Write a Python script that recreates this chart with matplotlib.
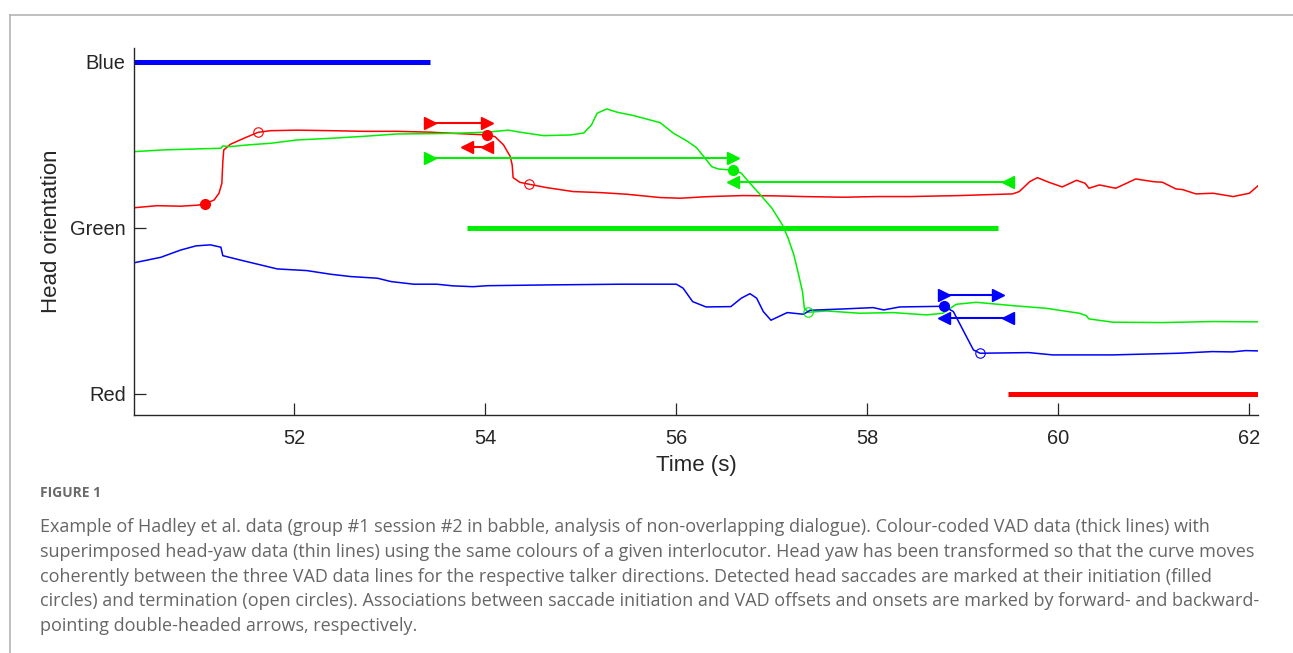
import numpy as np
import matplotlib
matplotlib.use("Agg")
import matplotlib.pyplot as plt
from matplotlib.lines import Line2D

# head-yaw traces (time in s, orientation: Red=0, Green=1, Blue=2)
red_t = [50.33, 50.56, 50.81, 50.98, 51.06, 51.16, 51.21, 51.24, 51.25, 51.26, 51.33, 51.47,
         51.62, 51.75, 52.03, 52.38, 52.73, 53.07, 53.42, 53.66, 54.02, 54.10, 54.19, 54.26,
         54.28, 54.29, 54.36, 54.46, 54.64, 54.92, 55.20, 55.48, 55.83, 56.04, 56.28, 56.35,
         56.70, 57.05, 57.33, 57.75, 58.10, 58.44, 58.97, 59.18, 59.52, 59.59, 59.70, 59.78,
         59.90, 60.04, 60.19, 60.28, 60.32, 60.43, 60.60, 60.81, 60.99, 61.09, 61.23, 61.30,
         61.44, 61.62, 61.83, 62.00, 62.10]
red_y = [1.122, 1.134, 1.131, 1.137, 1.143, 1.169, 1.209, 1.269, 1.399, 1.470, 1.504, 1.540,
         1.576, 1.586, 1.589, 1.586, 1.582, 1.582, 1.577, 1.570, 1.560, 1.550, 1.500, 1.430,
         1.380, 1.303, 1.275, 1.263, 1.243, 1.219, 1.213, 1.203, 1.183, 1.179, 1.187, 1.189,
         1.195, 1.193, 1.189, 1.185, 1.189, 1.189, 1.195, 1.199, 1.205, 1.219, 1.279, 1.303,
         1.275, 1.247, 1.287, 1.269, 1.239, 1.259, 1.239, 1.295, 1.279, 1.275, 1.235, 1.231,
         1.205, 1.209, 1.189, 1.209, 1.259]

green_t = [50.33, 50.63, 50.98, 51.23, 51.25, 51.33, 51.51, 51.75, 52.03, 52.38, 52.73, 53.07,
           53.42, 53.67, 54.02, 54.24, 54.36, 54.61, 54.89, 55.03, 55.11, 55.17, 55.27, 55.38,
           55.55, 55.76, 55.83, 55.97, 56.11, 56.21, 56.30, 56.37, 56.44, 56.59, 56.68, 56.77,
           56.88, 57.00, 57.11, 57.17, 57.23, 57.28, 57.32, 57.34, 57.38, 57.57, 57.92, 58.27,
           58.62, 58.79, 58.93, 59.14, 59.52, 59.87, 60.22, 60.29, 60.32, 60.57, 61.09, 61.62,
           62.10]
green_y = [1.460, 1.470, 1.476, 1.480, 1.494, 1.490, 1.500, 1.510, 1.530, 1.540, 1.552, 1.566,
           1.568, 1.570, 1.577, 1.589, 1.577, 1.556, 1.560, 1.572, 1.620, 1.691, 1.717, 1.697,
           1.677, 1.645, 1.634, 1.570, 1.524, 1.484, 1.420, 1.369, 1.355, 1.348, 1.330, 1.269,
           1.199, 1.119, 1.018, 0.938, 0.837, 0.717, 0.616, 0.516, 0.492, 0.500, 0.486, 0.490,
           0.476, 0.486, 0.540, 0.552, 0.532, 0.516, 0.486, 0.472, 0.452, 0.432, 0.430, 0.436,
           0.434]

blue_t = [50.33, 50.60, 50.81, 50.97, 51.12, 51.23, 51.25, 51.43, 51.82, 52.13, 52.38, 52.59,
          52.87, 53.01, 53.25, 53.49, 53.66, 53.87, 54.02, 54.71, 55.41, 56.00, 56.07, 56.17,
          56.31, 56.57, 56.68, 56.77, 56.84, 56.91, 56.99, 57.16, 57.33, 57.40, 57.75, 58.06,
          58.17, 58.34, 58.80, 58.90, 59.01, 59.11, 59.18, 59.69, 59.94, 60.56, 61.26, 61.61,
          61.82, 61.96, 62.10]
blue_y = [0.791, 0.823, 0.867, 0.892, 0.898, 0.884, 0.833, 0.807, 0.753, 0.743, 0.721, 0.707,
          0.697, 0.677, 0.661, 0.661, 0.651, 0.646, 0.652, 0.657, 0.661, 0.661, 0.637, 0.556,
          0.524, 0.526, 0.577, 0.604, 0.577, 0.496, 0.444, 0.490, 0.480, 0.504, 0.512, 0.520,
          0.506, 0.524, 0.528, 0.496, 0.375, 0.265, 0.245, 0.249, 0.235, 0.235, 0.245, 0.255,
          0.253, 0.261, 0.259]

# VAD segments: (start, end, level)
vad_blue = (50.0, 53.42, 2)
vad_green = (53.81, 59.37, 1)
vad_red = (59.47, 62.3, 0)

# saccade initiation (filled) and termination (open)
init_t = {"r": [51.06, 54.02], "g": [56.59], "b": [58.80]}
init_y = {"r": [1.143, 1.560], "g": [1.348], "b": [0.528]}
term_t = {"r": [51.62, 54.46], "g": [57.38], "b": [59.18]}
term_y = {"r": [1.576, 1.263], "g": [0.492], "b": [0.245]}

# arrows: (t0, t1, level, direction)
arrows_r = [(53.42, 54.02, 1.633, ">"), (53.81, 54.02, 1.488, "<")]
arrows_g = [(53.42, 56.59, 1.422, ">"), (56.59, 59.47, 1.277, "<")]
arrows_b = [(58.80, 59.37, 0.596, ">"), (58.80, 59.47, 0.458, "<")]

ytick_pos = [0, 1, 2]
ytick_lab = ["Red", "Green", "Blue"]
xtick_pos = [52, 54, 56, 58, 60, 62]

RED, GREEN, BLUE = "#ff0000", "#00ee00", "#0000ff"
cols = {"r": RED, "g": GREEN, "b": BLUE}

plt.rcParams['font.family'] = ['Liberation Sans', 'DejaVu Sans']
fig = plt.figure(figsize=(12.93, 6.53), dpi=100)
ax = fig.add_axes([134/1293, 1-415/653, (1258-134)/1293, (415-48)/653])

for (a, b, lv), c in [(vad_blue, BLUE), (vad_green, GREEN), (vad_red, RED)]:
    ax.plot([a, b], [lv, lv], color=c, lw=3.6, solid_capstyle="butt")

ax.plot(red_t, red_y, color=RED, lw=1.1)
ax.plot(green_t, green_y, color=GREEN, lw=1.1)
ax.plot(blue_t, blue_y, color=BLUE, lw=1.1)

for k, arrs in [("r", arrows_r), ("g", arrows_g), ("b", arrows_b)]:
    for t0, t1, lv, m in arrs:
        ax.plot([t0, t1], [lv, lv], color=cols[k], lw=1.5, marker=m, ms=8, mec=cols[k])
    ax.plot(init_t[k], init_y[k], "o", color=cols[k], ms=7)
    ax.plot(term_t[k], term_y[k], "o", mfc="none", mec=cols[k], ms=6.8, mew=0.8)

ax.set_xlim(50.32, 62.09)
ax.set_ylim(-0.127, 2.084)
ax.set_yticks(ytick_pos)
ax.set_yticklabels(ytick_lab)
ax.set_xticks(xtick_pos)
ax.spines["top"].set_visible(False)
ax.spines["right"].set_visible(False)
for s in ["left", "bottom"]:
    ax.spines[s].set_color("#262626")
    ax.spines[s].set_linewidth(1.0)
ax.tick_params(direction="in", length=8.5, width=0.9, colors="#262626", labelsize=14.4)
ax.tick_params(axis="x", pad=10)
ax.tick_params(axis="y", pad=6)
ax.set_xlabel("Time (s)", fontsize=16, color="#262626", labelpad=5)
ax.set_ylabel("Head orientation", fontsize=16, color="#262626", labelpad=6)

# page frame
fig.add_artist(Line2D([10/1293, 1], [1-15/653, 1-15/653], color="#b4b4b4", lw=1.2))
fig.add_artist(Line2D([10/1293, 10/1293], [0, 1-15/653], color="#b4b4b4", lw=1.2))

fig.text(40/1293, 1-493/653, "FIGURE 1", fontsize=10, fontweight="bold", color="#6a6a6a",
         family="Open Sans", va="center", ha="left")
caption = [
    "Example of Hadley et al. data (group #1 session #2 in babble, analysis of non-overlapping dialogue). Colour-coded VAD data (thick lines) with",
    "superimposed head-yaw data (thin lines) using the same colours of a given interlocutor. Head yaw has been transformed so that the curve moves",
    "coherently between the three VAD data lines for the respective talker directions. Detected head saccades are marked at their initiation (filled",
    "circles) and termination (open circles). Associations between saccade initiation and VAD offsets and onsets are marked by forward- and backward-",
    "pointing double-headed arrows, respectively.",
]
for i, line in enumerate(caption):
    fig.text(40/1293, 1-(527+24.8*i)/653, line, fontsize=13.0, color="#666666",
             family="Open Sans", va="center", ha="left")

fig.savefig("out.png", dpi=100)
